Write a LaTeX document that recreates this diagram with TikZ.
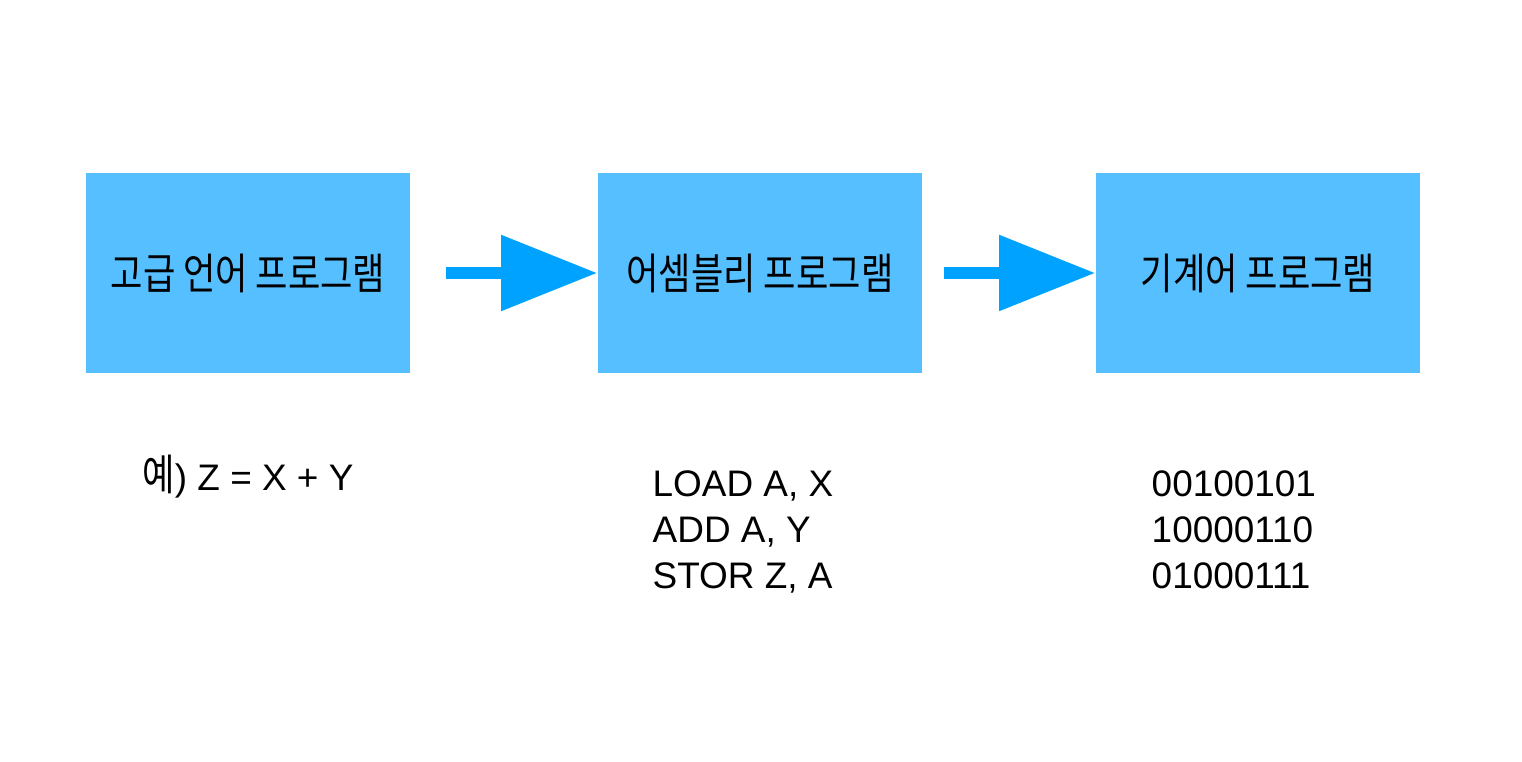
\documentclass[tikz,border=0pt]{standalone}
\usepackage{fontspec}
\setmainfont{Liberation Sans}
\newfontfamily\kr[FakeStretch=0.82]{Noto Sans CJK KR}
\usetikzlibrary{arrows.meta}
\definecolor{boxblue}{HTML}{56BFFF}
\definecolor{arrowblue}{HTML}{00A2FF}
\tikzstyle{prog}=[rectangle,fill=boxblue,minimum width=3.24cm,minimum height=2cm,inner sep=0pt,font=\fontsize{12.2}{14}\selectfont\kr]
\tikzstyle{flow}=[draw=arrowblue,line width=0.12cm,shorten <=0.35cm,-{Triangle[length=0.96cm,width=0.73cm,fill=arrowblue]}]
\tikzstyle{code}=[inner sep=0pt,align=left,font=\fontsize{10.5}{13.1}\selectfont]

\begin{document}
\begin{tikzpicture}[x=0.01cm,y=-0.01cm]
\useasboundingbox (0,0) rectangle (1522,762);
\node[prog] (hll) at (248, 273) {고급 언어 프로그램};
\node[prog] (asm) at (760, 273) {어셈블리 프로그램};
\node[prog] (mach) at (1258, 273) {기계어 프로그램};

\draw[flow] (hll) -- (asm);
\draw[flow,shorten <=0.21cm] (asm) -- (mach);

\node[code,anchor=base] (ex1) at (248, 491) {{\fontsize{12.2}{14}\selectfont\kr 예}) Z = X + Y};
\node[code,anchor=west] (ex2) at (652, 532) {LOAD A, X\\ADD A, Y\\STOR Z, A};
\node[code,anchor=west] (ex3) at (1151, 530) {00100101\\10000110\\01000111};

\end{tikzpicture}
\end{document}
